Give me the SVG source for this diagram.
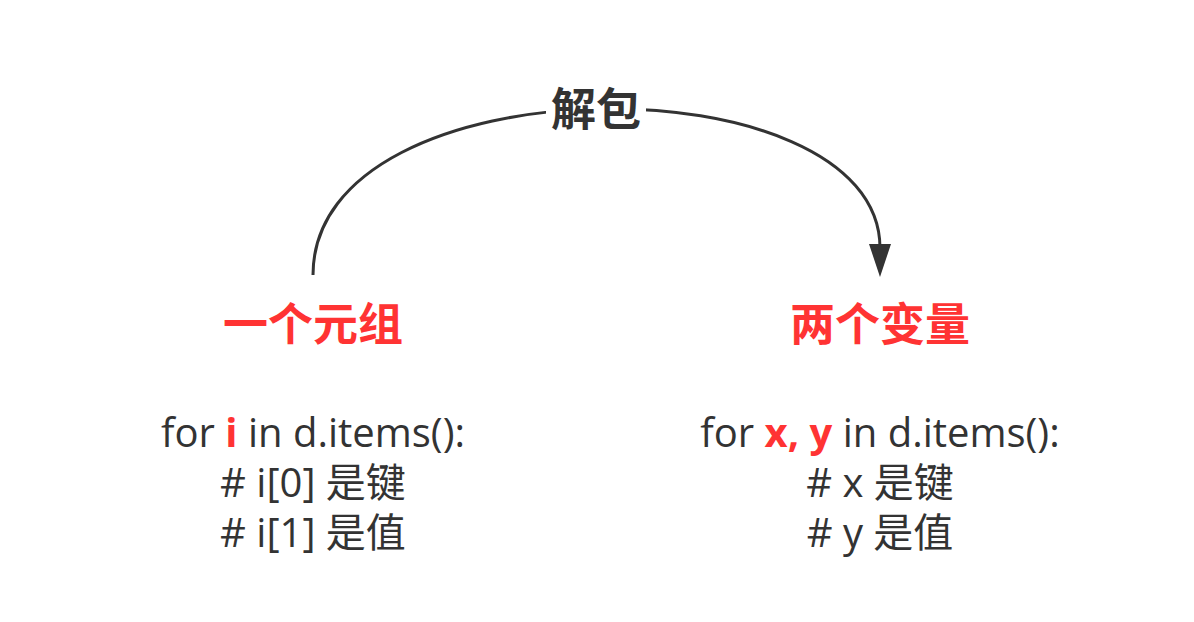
<svg xmlns="http://www.w3.org/2000/svg" width="1194" height="622" viewBox="0 0 1194 622">
<style>
.t{font-family:"Open Sans","Noto Sans CJK SC",sans-serif;font-size:40px;fill:#333;text-anchor:middle}
.h{font-family:"Noto Sans CJK SC",sans-serif;font-size:45px;font-weight:bold;text-anchor:middle}
.r{fill:#ff3333}
.hl{fill:#ff3333;font-weight:bold}
</style>
<rect width="1194" height="622" fill="#fff"/>
<g id="connectors">
<path d="M313,275 C313,58 880,58 880,248" fill="none" stroke="#333" stroke-width="3"/>
<path d="M869,244 L880,277 L891,244 Z" fill="#333"/>
<rect x="546" y="84" width="100" height="52" fill="#fff"/>
<text class="h" x="596" y="126" fill="#333">解包</text>
</g>
<g id="left">
<text class="h r" x="313" y="341">一个元组</text>
<text class="t" x="313" y="447">for <tspan class="hl">i</tspan> in d.items():</text>
<text class="t" x="313" y="497"># i[0] 是键</text>
<text class="t" x="313" y="547"># i[1] 是值</text>
</g>
<g id="right">
<text class="h r" x="880" y="341">两个变量</text>
<text class="t" x="880" y="447">for <tspan class="hl">x, y</tspan> in d.items():</text>
<text class="t" x="880" y="497"># x 是键</text>
<text class="t" x="880" y="547"># y 是值</text>
</g>
</svg>
